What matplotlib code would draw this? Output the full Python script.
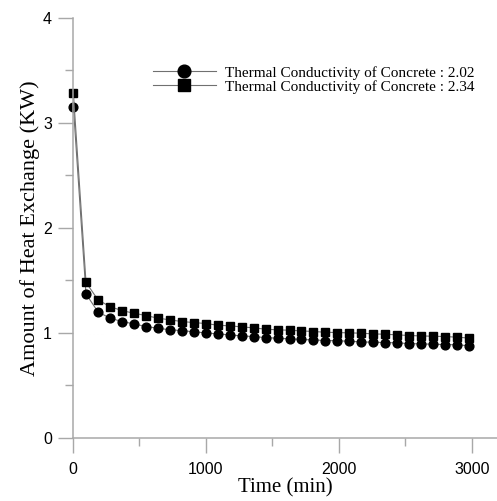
import numpy as np
import matplotlib.pyplot as plt

# time (min) and heat exchange (KW)
time = [5] + [100 + 90 * k for k in range(33)]
q_202 = [3.15, 1.37, 1.20, 1.14, 1.108, 1.086, 1.06, 1.045, 1.029, 1.022, 1.01, 1.0,
         0.99, 0.981, 0.971, 0.965, 0.955, 0.949, 0.943, 0.937, 0.933, 0.927, 0.925,
         0.92, 0.914, 0.911, 0.908, 0.905, 0.898, 0.895, 0.892, 0.889, 0.886, 0.878]
q_234 = [3.28, 1.48, 1.314, 1.25, 1.212, 1.187, 1.165, 1.14, 1.124, 1.108, 1.098, 1.089,
         1.073, 1.067, 1.057, 1.048, 1.035, 1.029, 1.025, 1.019, 1.013, 1.006, 1.003,
         1.0, 0.997, 0.99, 0.987, 0.981, 0.975, 0.971, 0.968, 0.965, 0.959, 0.951]
labels = ['Thermal Conductivity of Concrete : 2.02',
          'Thermal Conductivity of Concrete : 2.34']

axis_col = '#a8a8a8'

fig = plt.figure(figsize=(4.97, 5.01), dpi=100)
ax = fig.add_axes([72.7 / 497, 63 / 501, (497 - 72.7) / 497, 420.5 / 501])

ax.plot(time, q_202, color='#707070', lw=0.8, marker='o', ms=6.3,
        mfc='black', mec='black', label=labels[0], clip_on=False)
ax.plot(time, q_234, color='#707070', lw=0.8, marker='s', ms=5.6,
        mfc='black', mec='black', label=labels[1], clip_on=False)

ax.set_xlim(0, 3190)
ax.set_ylim(0, 4)
ax.set_xticks([0, 1000, 2000, 3000])
ax.set_xticks([500, 1500, 2500], minor=True)
ax.set_yticks([0, 1, 2, 3, 4])
ax.set_yticks([0.5, 1.5, 2.5, 3.5], minor=True)

for s in ['top', 'right']:
    ax.spines[s].set_visible(False)
for s in ['left', 'bottom']:
    ax.spines[s].set_color(axis_col)
    ax.spines[s].set_linewidth(1.1)

ax.tick_params(which='major', length=11, width=1.0, color=axis_col, direction='out')
ax.tick_params(which='minor', length=5.5, width=1.0, color=axis_col, direction='out')
ax.tick_params(axis='y', which='major', pad=4)
ax.tick_params(axis='x', which='major', pad=6)
for t in ax.get_xticklabels() + ax.get_yticklabels():
    t.set_fontfamily('Liberation Sans')
    t.set_fontsize(11.5)

ax.set_xlabel('Time (min)', fontfamily='Liberation Serif', fontsize=15, labelpad=1)
ax.set_ylabel('Amount of Heat Exchange (KW)', fontfamily='Liberation Serif',
              fontsize=16, labelpad=2)

leg = ax.legend(loc='upper left', bbox_to_anchor=(153 / 497, 1 - 66 / 501),
                bbox_transform=fig.transFigure, frameon=False, borderpad=0,
                borderaxespad=0, handlelength=4.1, handletextpad=0.6,
                labelspacing=0.0, markerscale=1.45,
                prop={'family': 'Liberation Serif', 'size': 11})

fig.savefig('out.png', dpi=100)
